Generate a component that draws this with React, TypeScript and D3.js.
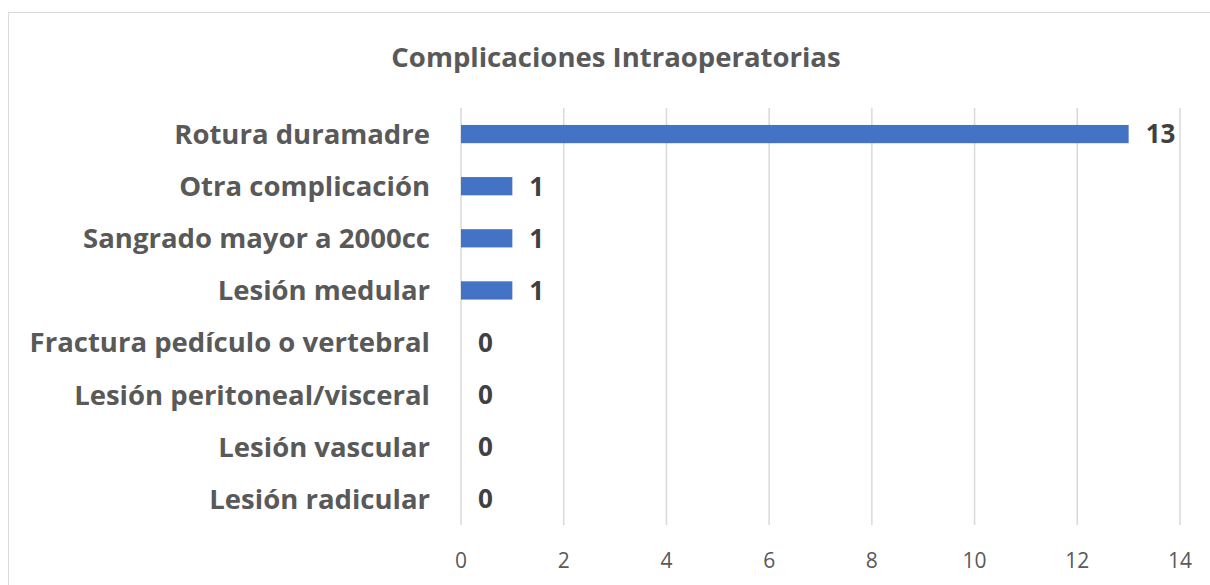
import React from "react";
import * as d3 from "d3";

const categories = [
  "Rotura duramadre",
  "Otra complicación",
  "Sangrado mayor a 2000cc",
  "Lesión medular",
  "Fractura pedículo o vertebral",
  "Lesión peritoneal/visceral",
  "Lesión vascular",
  "Lesión radicular",
];
const values = [13, 1, 1, 1, 0, 0, 0, 0];
const xTicks = [0, 2, 4, 6, 8, 10, 12, 14];
const title = "Complicaciones Intraoperatorias";

const W = 1210;
const H = 585;
const left = 461;
const right = 1180;
const top = 108;
const bottom = 525;

export default function App() {
  const x = d3.scaleLinear().domain([0, 14]).range([left, right]);
  const y = d3.scaleBand<string>().domain(categories).range([top, bottom]).paddingInner(0.65).paddingOuter(0.325);
  const font = "'Open Sans', 'Noto Sans', sans-serif";
  return (
    <svg width={W} height={H} style={{ position: "absolute", left: 0, top: 0, background: "#fff" }}>
      <rect x={8.5} y={12.5} width={W} height={H} fill="#fff" stroke="#d9d9d9" strokeWidth={1} />
      <text x={616} y={67} textAnchor="middle" fontFamily={font} fontSize={27.5} fontWeight={700} fill="#595959">
        {title}
      </text>
      {xTicks.map((t) => (
        <g key={t}>
          <line x1={x(t)} x2={x(t)} y1={top} y2={bottom} stroke="#d9d9d9" strokeWidth={1.5} />
          <text x={x(t)} y={568} textAnchor="middle" fontFamily={font} fontSize={21} fill="#595959">
            {t}
          </text>
        </g>
      ))}
      {categories.map((c, i) => {
        const yc = (y(c) as number) + y.bandwidth() / 2;
        return (
          <g key={c}>
            <text x={430} y={yc} dy="0.36em" textAnchor="end" fontFamily={font} fontSize={27.5} fontWeight={700} fill="#595959">
              {c}
            </text>
            <rect x={x(0)} y={y(c)} width={x(values[i]) - x(0)} height={y.bandwidth()} fill="#4472C4" />
            <text x={x(values[i]) + 17} y={yc} dy="0.36em" fontFamily={font} fontSize={26} fontWeight={700} fill="#404040">
              {values[i]}
            </text>
          </g>
        );
      })}
    </svg>
  );
}
